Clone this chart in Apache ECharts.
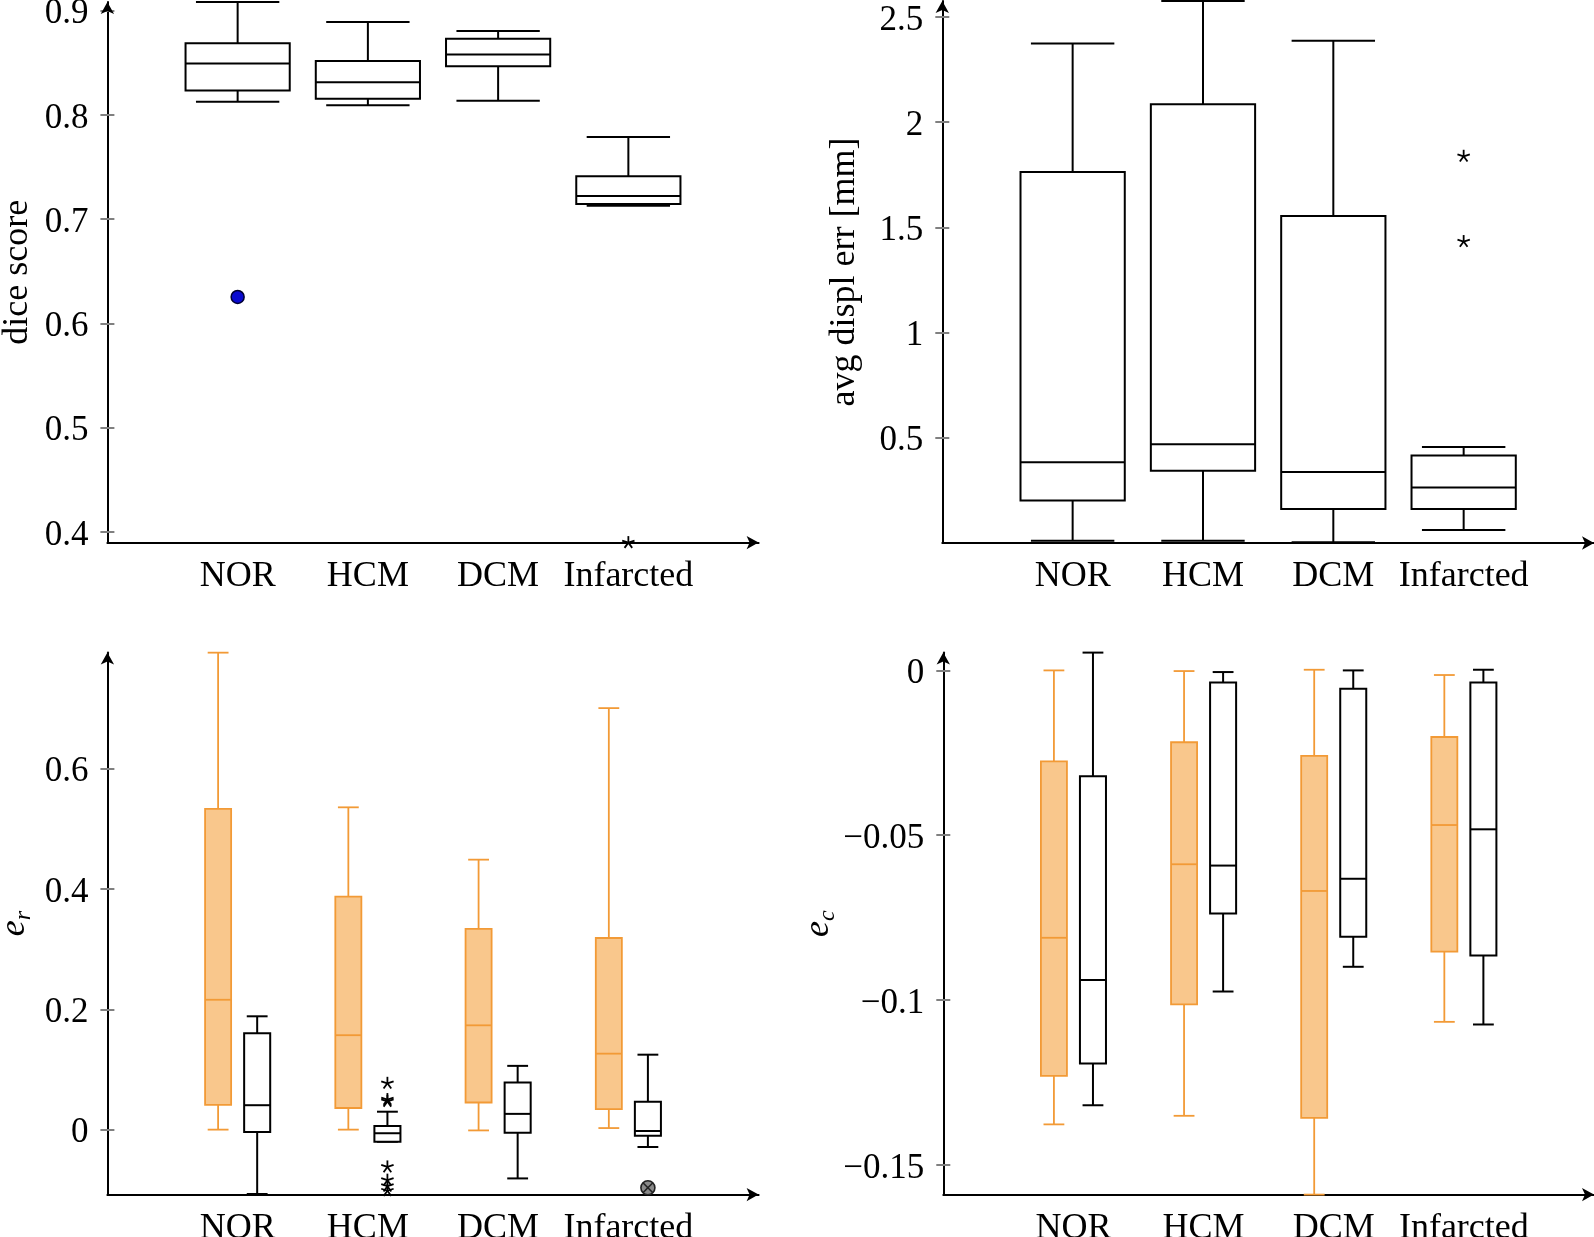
<!DOCTYPE html>
<html><head><meta charset="utf-8">
<script src="https://cdn.jsdelivr.net/npm/echarts@6/dist/echarts.min.js"></script>
<style>html,body{margin:0;padding:0;background:#fff}#c{width:1594px;height:1237px}</style>
</head><body><div id="c"></div>
<script>
const categories = ['NOR', 'HCM', 'DCM', 'Infarcted'];

// boxes: [lowerWhisker, q1, median, q3, upperWhisker]
const diceBoxes = [
  [0.8126, 0.8236, 0.8493, 0.8688, 0.9084],
  [0.8093, 0.8156, 0.8313, 0.8519, 0.8893],
  [0.8137, 0.8468, 0.8581, 0.8732, 0.8805],
  [0.7128, 0.7146, 0.7223, 0.7411, 0.7789]
];
const diceOutliersCircle = [[0, 0.6254]];
const diceOutliersStar = [[3, 0.3897]];
const diceTicks = [0.4, 0.5, 0.6, 0.7, 0.8, 0.9];

const displBoxes = [
  [0.0109, 0.2018, 0.3836, 1.7636, 2.3745],
  [0.0110, 0.3436, 0.4690, 2.0855, 2.5760],
  [0.0030, 0.1618, 0.3380, 1.5545, 2.3870],
  [0.0618, 0.1618, 0.2636, 0.4164, 0.4564]
];
const displOutliersStar = [[3, 1.838], [3, 1.4327]];
const displTicks = [0.5, 1, 1.5, 2, 2.5];

const erOrangeBoxes = [
  [0.0000, 0.0412, 0.2159, 0.5332, 0.7929],
  [0.0000, 0.0360, 0.1570, 0.3873, 0.5358],
  [-0.0013, 0.0451, 0.1734, 0.3337, 0.4488],
  [0.0026, 0.0340, 0.1263, 0.3186, 0.7007]
];
const erBlackBoxes = [
  [-0.1070, -0.0039, 0.0406, 0.1603, 0.1884],
  [-0.0200, -0.0200, -0.0060, 0.0060, 0.0298],
  [-0.0811, -0.0052, 0.0262, 0.0785, 0.1060],
  [-0.0289, -0.0101, -0.0023, 0.0464, 0.1246]
];
const erBlackOutliersStar = [[1, 0.077], [1, 0.050], [1, 0.047], [1, -0.062], [1, -0.084], [1, -0.094], [1, -0.1016]];
const erBlackOutliersOtimes = [[3, -0.0966]];
const erTicks = [0, 0.2, 0.4, 0.6];

const ecOrangeBoxes = [
  [-0.1377, -0.1230, -0.0811, -0.0276, 0.0000],
  [-0.1351, -0.1013, -0.0588, -0.0218, -0.0002],
  [-0.1590, -0.1357, -0.0669, -0.0259, 0.0002],
  [-0.1066, -0.0853, -0.0469, -0.0202, -0.0014]
];
const ecBlackBoxes = [
  [-0.1319, -0.1192, -0.0939, -0.0321, 0.0054],
  [-0.0974, -0.0737, -0.0592, -0.0037, -0.0005],
  [-0.0899, -0.0808, -0.0632, -0.0056, 0.0000],
  [-0.1074, -0.0865, -0.0482, -0.0037, 0.0002]
];
const ecTicks = [-0.15, -0.1, -0.05, 0];

const FONT = 'Liberation Serif';
const ORANGE = '#F29A36';
const ORANGE_FILL = '#F9C78C';
const TICK = '#808080';

function fmtNum(v) {
  const s = String(+Math.abs(v).toFixed(3));
  return (v < -1e-9 ? '\u2212' : '') + s;
}

function xAxis(g) {
  return {
    gridIndex: g, type: 'value', min: 0, max: 5, interval: 1,
    axisLine: { show: true, onZero: false, lineStyle: { color: '#000', width: 2 }, symbol: ['none', 'arrow'], symbolSize: [10, 12] },
    axisTick: { show: false },
    splitLine: { show: false },
    axisLabel: {
      color: '#000', fontFamily: FONT, fontSize: 36, margin: 16,
      showMinLabel: true, showMaxLabel: true,
      formatter: v => categories[v - 1] || ''
    }
  };
}

function yAxes(g, min, max, ticks, name, nameGap, nameTextStyle) {
  return [{
    gridIndex: g, type: 'value', min, max, name, nameLocation: 'middle', nameGap,
    nameTextStyle: Object.assign({ color: '#000', fontFamily: FONT, fontSize: 36 }, nameTextStyle || {}),
    axisLine: { show: true, onZero: false, lineStyle: { color: '#000', width: 2 }, symbol: ['none', 'arrow'], symbolSize: [10, 12] },
    axisTick: { show: true, customValues: ticks, length: 7, lineStyle: { color: TICK, width: 2 } },
    axisLabel: {
      customValues: ticks, formatter: v => '{a|' + fmtNum(v) + '}', margin: 19,
      rich: { a: { color: '#000', fontFamily: FONT, fontSize: 35, padding: [7, 0, 0, 0] } }
    },
    splitLine: { show: false }
  }, {
    gridIndex: g, type: 'value', min, max, position: 'left', offset: 0,
    axisLine: { show: false }, axisLabel: { show: false }, splitLine: { show: false },
    axisTick: { show: true, inside: true, customValues: ticks, length: 7, lineStyle: { color: TICK, width: 2 } }
  }];
}

function boxSeries(g, boxes, offset, boxW, stroke, fill, lw) {
  return {
    type: 'custom', xAxisIndex: g, yAxisIndex: g * 2, z: 3,
    data: boxes.map((b, i) => [i].concat(b)),
    encode: { x: 0, y: [1, 2, 3, 4, 5] },
    renderItem: (params, api) => {
      const x = api.value(0) + 1 + offset;
      const lo = api.value(1), q1 = api.value(2), med = api.value(3), q3 = api.value(4), hi = api.value(5);
      const xl = api.coord([x - boxW / 2, q1])[0], xr = api.coord([x + boxW / 2, q1])[0];
      const cl = api.coord([x - boxW * 0.4, q1])[0], cr = api.coord([x + boxW * 0.4, q1])[0];
      const xc = api.coord([x, q1])[0];
      const y = v => api.coord([x, v])[1];
      const ls = { stroke, lineWidth: lw, fill: null };
      return {
        type: 'group', children: [
          { type: 'line', shape: { x1: xc, y1: y(q3), x2: xc, y2: y(hi) }, style: ls },
          { type: 'line', shape: { x1: xc, y1: y(q1), x2: xc, y2: y(lo) }, style: ls },
          { type: 'line', shape: { x1: cl, y1: y(hi), x2: cr, y2: y(hi) }, style: ls },
          { type: 'line', shape: { x1: cl, y1: y(lo), x2: cr, y2: y(lo) }, style: ls },
          { type: 'rect', shape: { x: xl, y: y(q3), width: xr - xl, height: y(q1) - y(q3) }, style: { stroke, lineWidth: lw, fill } },
          { type: 'line', shape: { x1: xl, y1: y(med), x2: xr, y2: y(med) }, style: ls }
        ]
      };
    }
  };
}

function markerSeries(g, pts, offset, kind) {
  return {
    type: 'custom', xAxisIndex: g, yAxisIndex: g * 2, z: 5,
    data: pts,
    encode: { x: 0, y: 1 },
    renderItem: (params, api) => {
      const p = api.coord([api.value(0) + 1 + offset, api.value(1)]);
      if (kind === 'star') {
        const children = [];
        const r = 6.5;
        for (let k = 0; k < 5; k++) {
          const a = -Math.PI / 2 + k * 2 * Math.PI / 5;
          children.push({ type: 'line', shape: { x1: p[0], y1: p[1], x2: p[0] + r * Math.cos(a), y2: p[1] + r * Math.sin(a) }, style: { stroke: '#000', lineWidth: 1.8 } });
        }
        return { type: 'group', children };
      } else if (kind === 'circle') {
        return { type: 'circle', shape: { cx: p[0], cy: p[1], r: 6.5 }, style: { fill: '#0a0ad0', stroke: '#000033', lineWidth: 1.5 } };
      } else {
        const r = 7, d = r * 0.7071;
        return {
          type: 'group', children: [
            { type: 'circle', shape: { cx: p[0], cy: p[1], r }, style: { fill: '#8a8a8a', stroke: '#222', lineWidth: 1.6 } },
            { type: 'line', shape: { x1: p[0] - d, y1: p[1] - d, x2: p[0] + d, y2: p[1] + d }, style: { stroke: '#222', lineWidth: 1.6 } },
            { type: 'line', shape: { x1: p[0] - d, y1: p[1] + d, x2: p[0] + d, y2: p[1] - d }, style: { stroke: '#222', lineWidth: 1.6 } }
          ]
        };
      }
    }
  };
}

const subRich = {
  e: { fontFamily: FONT, fontSize: 36, fontStyle: 'italic', color: '#000', lineHeight: 42 },
  s: { fontFamily: FONT, fontSize: 24, fontStyle: 'italic', color: '#000', lineHeight: 20, verticalAlign: 'bottom' }
};

const gridBase = { containLabel: false, outerBoundsMode: 'none' };
const option = {
  animation: false,
  backgroundColor: '#fff',
  grid: [
    Object.assign({ left: 107.4, top: 2, width: 651.2, height: 540.6 }, gridBase),
    Object.assign({ left: 942.3, top: 1, width: 651.7, height: 542 }, gridBase),
    Object.assign({ left: 107.4, top: 652.6, width: 651.2, height: 542 }, gridBase),
    Object.assign({ left: 943.3, top: 652.6, width: 650.7, height: 542 }, gridBase)
  ],
  xAxis: [xAxis(0), xAxis(1), xAxis(2), xAxis(3)],
  yAxis: [].concat(
    yAxes(0, 0.3897, 0.9084, diceTicks, 'dice score', 72),
    yAxes(1, 0, 2.576, displTicks, 'avg displ err [mm]', 80),
    yAxes(2, -0.108, 0.793, erTicks, '{e|e}{s|r}', 72, { rich: subRich }),
    yAxes(3, -0.159, 0.0054, ecTicks, '{e|e}{s|c}', 98, { rich: subRich })
  ),
  series: [
    boxSeries(0, diceBoxes, 0, 0.8, '#000', '#fff', 2),
    markerSeries(0, diceOutliersCircle, 0, 'circle'),
    markerSeries(0, diceOutliersStar, 0, 'star'),
    boxSeries(1, displBoxes, 0, 0.8, '#000', '#fff', 2),
    markerSeries(1, displOutliersStar, 0, 'star'),
    boxSeries(2, erOrangeBoxes, -0.15, 0.2, ORANGE, ORANGE_FILL, 1.8),
    boxSeries(2, erBlackBoxes, 0.15, 0.2, '#000', '#fff', 2),
    markerSeries(2, erBlackOutliersStar, 0.15, 'star'),
    markerSeries(2, erBlackOutliersOtimes, 0.15, 'otimes'),
    boxSeries(3, ecOrangeBoxes, -0.15, 0.2, ORANGE, ORANGE_FILL, 1.8),
    boxSeries(3, ecBlackBoxes, 0.15, 0.2, '#000', '#fff', 2)
  ]
};

const chart = echarts.init(document.getElementById('c'), null, { renderer: 'canvas' });
chart.setOption(option);
</script>
</body></html>
